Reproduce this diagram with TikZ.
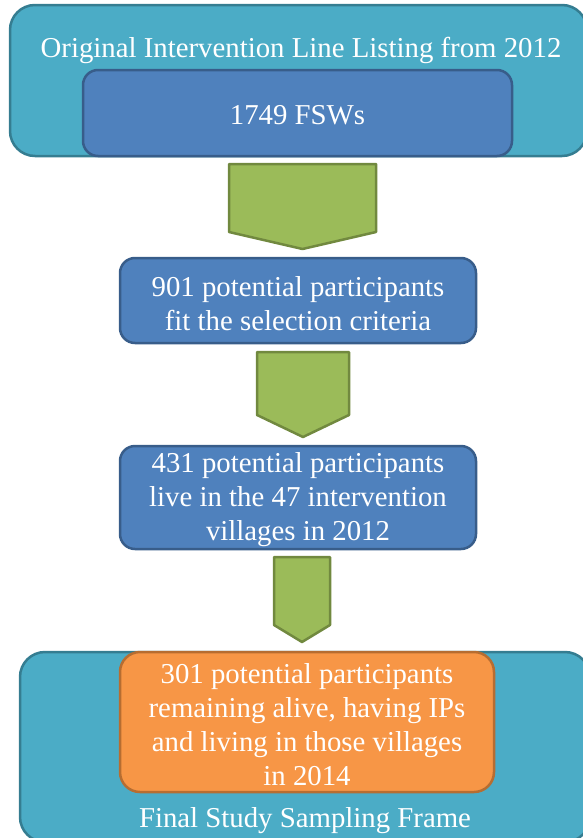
\documentclass[tikz,border=0pt]{standalone}
\usepackage{fontspec}
\setmainfont{Liberation Serif}
\usepackage{xcolor}
\usepackage{tikz}
\usetikzlibrary{positioning,calc}
\definecolor{frameteal}{HTML}{4BACC6}
\definecolor{frametealdark}{HTML}{357D91}
\definecolor{stepblue}{HTML}{4F81BD}
\definecolor{stepbluedark}{HTML}{385D8A}
\definecolor{finalorange}{HTML}{F79646}
\definecolor{finalorangedark}{HTML}{B66D31}
\definecolor{arrowgreen}{HTML}{9BBB59}
\definecolor{arrowgreendark}{HTML}{71893F}

% block arrow pointing down: centre x, top y, half width, body length, tip depth
\newcommand{\flowarrow}[5]{%
  \draw[downarrow] (#1-#3,#2) -- (#1+#3,#2) -- (#1+#3,#2+#4) -- (#1,#2+#4+#5) -- (#1-#3,#2+#4) -- cycle;}

\begin{document}
\begin{tikzpicture}[
  x=1pt, y=-1pt,
  txt/.style={text=white, align=center, font=\fontsize{28.8}{34}\selectfont},
  frame/.style={draw=frametealdark, fill=frameteal, line width=2.5pt, rounded corners=25pt},
  stepbox/.style={txt, draw=stepbluedark, fill=stepblue, line width=2.5pt, rounded corners=15pt, inner sep=0pt},
  finalbox/.style={txt, draw=finalorangedark, fill=finalorange, line width=2.5pt, rounded corners=20pt, inner sep=0pt},
  downarrow/.style={draw=arrowgreendark, fill=arrowgreen, line width=2.5pt, line join=round}
]
\useasboundingbox (0,0) rectangle (583,838);
\clip (0,0) rectangle (583,838);

% top group
\node[frame, minimum width=577pt, minimum height=151pt] (listing) at (298.5,80.5) {};
\node[txt] (listinglbl) at (301,50) {Original Intervention Line Listing from 2012};
\node[stepbox, minimum width=429pt, minimum height=86pt] (fsw) at (297.5,113) {};
\node[txt] (fswlbl) at (297.5,115.5) {1749 FSWs};

% middle steps
\node[stepbox, minimum width=356pt, minimum height=85pt] (fit) at (298,300.5) {};
\node[txt] (fitlbl) at (298,303.5) {901 potential participants\\fit the selection criteria};
\node[stepbox, minimum width=356pt, minimum height=103pt] (live) at (298,497.5) {};
\node[txt] (livelbl) at (298,500) {431 potential participants\\live in the 47 intervention\\villages in 2012};

% bottom group
\node[frame, minimum width=570pt, minimum height=190pt] (sampling) at (305,747) {};
\node[finalbox, minimum width=374pt, minimum height=140pt] (final) at (307,722) {};
\node[txt] (finallbl) at (307,724.5) {301 potential participants\\remaining alive, having IPs\\and living in those villages\\in 2014};
\node[txt] (samplinglbl) at (305,821) {Final Study Sampling Frame};

\flowarrow{302.5}{164}{73.5}{68}{17}
\flowarrow{303}{352}{46}{63}{22}
\flowarrow{302}{557}{28}{68}{17}

\end{tikzpicture}
\end{document}
